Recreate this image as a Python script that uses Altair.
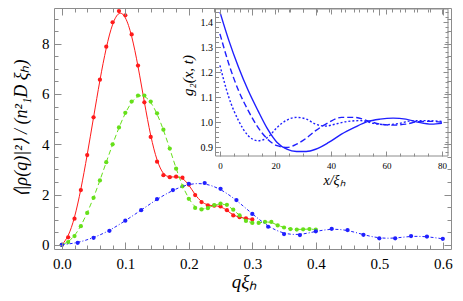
import altair as alt
import pandas as pd

# ---------------- main panel data ----------------
red_q = [0.00, 0.01, 0.02, 0.03, 0.04, 0.05, 0.06, 0.07, 0.08, 0.09, 0.10,
         0.11, 0.12, 0.13, 0.14, 0.15, 0.16, 0.17, 0.18, 0.19, 0.20,
         0.21, 0.22, 0.23, 0.24, 0.25, 0.26, 0.27, 0.28, 0.29, 0.30]
red_v = [0.00, 0.30, 1.04, 2.18, 3.57, 5.07, 6.57, 7.88, 8.85, 9.30, 9.13,
         8.37, 7.13, 5.67, 4.29, 3.31, 2.77, 2.69, 2.71, 2.67, 2.40,
         1.98, 1.70, 1.57, 1.56, 1.53, 1.38, 1.17, 1.10, 1.05, 1.01]

green_q = [0.00, 0.01, 0.02, 0.03, 0.04, 0.05, 0.06, 0.07, 0.08, 0.09, 0.10,
           0.11, 0.12, 0.13, 0.14, 0.15, 0.16, 0.17, 0.18, 0.19, 0.20,
           0.21, 0.22, 0.23, 0.24, 0.25, 0.26, 0.27, 0.28, 0.29, 0.30,
           0.31, 0.32, 0.33, 0.34, 0.35, 0.36, 0.37, 0.38, 0.39, 0.40]
green_v = [0.00, 0.11, 0.35, 0.74, 1.27, 1.87, 2.56, 3.29, 4.00, 4.67, 5.25,
           5.70, 5.94, 5.94, 5.70, 5.23, 4.58, 3.83, 3.03, 2.33, 1.83,
           1.47, 1.41, 1.46, 1.58, 1.64, 1.59, 1.40, 1.17, 0.95, 0.87,
           0.87, 0.91, 0.91, 0.77, 0.69, 0.63, 0.61, 0.62, 0.63, 0.61]

blue_q = [0.000, 0.025, 0.050, 0.075, 0.100, 0.125, 0.150, 0.175, 0.200,
          0.225, 0.250, 0.275, 0.300, 0.325, 0.350, 0.375, 0.400, 0.425,
          0.450, 0.475, 0.500, 0.525, 0.550, 0.575, 0.600]
blue_v = [0.00, 0.08, 0.28, 0.56, 0.96, 1.38, 1.82, 2.18, 2.43,
          2.46, 2.23, 1.78, 1.23, 0.72, 0.43, 0.39, 0.54, 0.64,
          0.59, 0.40, 0.26, 0.26, 0.35, 0.33, 0.24]

x_labels = [0.0, 0.1, 0.2, 0.3, 0.4, 0.5, 0.6]
y_labels = [0, 2, 4, 6, 8]

# ---------------- inset data ----------------
inset_x = [0, 3.2, 6.7, 10.2, 13.7, 17.2, 20.6, 24.1, 27.6, 31.1, 34.5,
           39.2, 43.8, 48.5, 53.1, 57.7, 62.4, 67.0, 71.7, 76.3, 80.0]
g_solid = [1.440, 1.327, 1.220, 1.127, 1.047, 0.973, 0.920, 0.893, 0.884,
           0.884, 0.893, 0.920, 0.953, 0.980, 1.003, 1.013, 1.017, 1.013,
           1.000, 0.993, 0.996]
g_dashed = [1.353, 1.233, 1.127, 1.047, 0.980, 0.933, 0.907, 0.900, 0.913,
            0.937, 0.967, 1.000, 1.020, 1.020, 1.007, 0.993, 0.989, 0.993,
            1.003, 1.004, 1.000]
dot_x = [0, 3.2, 6.7, 10.2, 13.7, 17.2, 20.6, 24.1, 27.6, 31.1, 34.5,
         38.0, 41.5, 46.1, 50.8, 55.4, 60.0, 64.7, 69.3, 73.9, 80.0]
g_dotted = [1.227, 1.100, 1.007, 0.947, 0.927, 0.940, 0.980, 1.009, 1.020,
            1.013, 0.993, 0.985, 0.993, 1.004, 1.007, 0.996, 0.991, 0.996,
            1.007, 1.007, 1.004]
inset_x_labels = [0, 20, 40, 60, 80]
inset_y_labels = [0.9, 1.0, 1.1, 1.2, 1.3, 1.4]

# ---------------- layout / style ----------------
W, H = 397, 241
IN_L, IN_R, IN_T, IN_B = 161.5, 394, 1, 148
RED, GREEN, BLUE = "#ff1a1a", "#66e01a", "#1f1fff"
FRAME = "#8c8c8c"
SERIF = "Liberation Serif"

red_df = pd.DataFrame({"q": red_q, "v": red_v})
green_df = pd.DataFrame({"q": green_q, "v": green_v})
blue_df = pd.DataFrame({"q": blue_q, "v": blue_v})
solid_df = pd.DataFrame({"x": inset_x, "g": g_solid})
dashed_df = pd.DataFrame({"x": inset_x, "g": g_dashed})
dotted_df = pd.DataFrame({"x": dot_x, "g": g_dotted})

xs = alt.Scale(domain=[-0.0123, 0.6129], nice=False, zero=False)
ys = alt.Scale(domain=[-0.165, 9.42], nice=False, zero=False)
ixs = alt.Scale(domain=[-1.6, 82.2], range=[IN_L, IN_R], nice=False, zero=False)
iys = alt.Scale(domain=[0.866, 1.452], range=[IN_B, IN_T], nice=False, zero=False)

x_minor = [round(0.02 * i, 2) for i in range(0, 31)]
y_minor = [0.5 * i for i in range(0, 19)]
ix_minor = [5 * i for i in range(0, 17)]
iy_minor = [round(0.88 + 0.02 * i, 2) for i in range(0, 29)]


def tick_axis(values, orient, offset, test, big, small):
    return alt.Axis(values=values, orient=orient, offset=offset, labels=False,
                    domain=False, grid=False, title=None, ticks=True,
                    tickColor=FRAME, tickWidth=1, zindex=1,
                    tickSize={"condition": {"test": test, "value": big},
                              "value": small})


x_major_test = "abs(datum.value*10 - round(datum.value*10)) < 0.001"
y_major_test = "abs(datum.value/2 - round(datum.value/2)) < 0.001"
ix_major_test = "abs(datum.value/20 - round(datum.value/20)) < 0.001"
iy_major_test = "abs(datum.value*10 - round(datum.value*10)) < 0.001"

# main axes with labels and titles
main_x_axis = alt.Axis(values=x_labels, format=".1f", orient="bottom", ticks=False,
                       domain=False, grid=False, labelFont=SERIF, labelFontSize=15,
                       labelColor="black", labelPadding=7, labelFlush=False,
                       title="qξₕ", titleFont=SERIF, titleFontStyle="italic",
                       titleFontWeight="normal", titleFontSize=19, titleColor="black",
                       titleX=190, titleY=38, titleBaseline="alphabetic",
                       titleAlign="center")
main_y_axis = alt.Axis(values=y_labels, format="d", orient="left", ticks=False,
                       domain=False, grid=False, labelFont=SERIF, labelFontSize=15,
                       labelColor="black", labelPadding=5, labelFlush=False,
                       title="⟨|ρ(q)|²⟩ / (n²₁D ξₕ)", titleFont=SERIF,
                       titleFontStyle="italic", titleFontWeight="normal",
                       titleFontSize=18, titleColor="black", titleAngle=270,
                       titleX=-28, titleY=120, titleBaseline="alphabetic",
                       titleAlign="center")

MX = alt.X("q:Q", scale=xs, axis=main_x_axis)
MY = alt.Y("v:Q", scale=ys, axis=main_y_axis)


def series(df, color, dash):
    base = alt.Chart(df)
    line_kw = dict(color=color, strokeWidth=1, interpolate="basis")
    if dash:
        line_kw["strokeDash"] = dash
    line = base.mark_line(**line_kw).encode(x=MX, y=MY)
    pts = base.mark_circle(color=color, size=18, opacity=1).encode(x=MX, y=MY)
    return [line, pts]


main = alt.layer(*(series(red_df, RED, None)
                   + series(green_df, GREEN, [5, 3])
                   + series(blue_df, BLUE, [3, 2, 1, 2])))

# inward tick layers for the main frame
ticks_a = alt.Chart(red_df).mark_point(opacity=0).encode(
    x=alt.X("q:Q", scale=xs, axis=tick_axis(x_minor, "top", -H, x_major_test, 7, 4)),
    y=alt.Y("v:Q", scale=ys, axis=tick_axis(y_minor, "right", -W, y_major_test, 7, 4)),
)
ticks_b = alt.Chart(red_df).mark_point(opacity=0).encode(
    x=alt.X("q:Q", scale=xs, axis=tick_axis(x_minor, "bottom", -H, x_major_test, 7, 4)),
    y=alt.Y("v:Q", scale=ys, axis=tick_axis(y_minor, "left", -W, y_major_test, 7, 4)),
)

# inset background/frame
inset_bg = alt.Chart(pd.DataFrame({"a": [0]})).mark_rect(
    fill="white", stroke=FRAME, strokeWidth=1).encode(
    x=alt.value(IN_L), x2=alt.value(IN_R), y=alt.value(IN_T), y2=alt.value(IN_B))

inset_x_axis = alt.Axis(values=inset_x_labels, format="d", orient="bottom",
                        offset=IN_B - H, ticks=False, domain=False, grid=False,
                        labelFont=SERIF, labelFontSize=9, labelColor="black",
                        labelPadding=5, labelFlush=False, zindex=1,
                        title="x/ξₕ", titleFont=SERIF, titleFontStyle="italic",
                        titleFontWeight="normal", titleFontSize=14,
                        titleColor="black", titleX=280, titleY=28,
                        titleBaseline="alphabetic", titleAlign="center")
inset_y_axis = alt.Axis(values=inset_y_labels, format=".1f", orient="left",
                        offset=-IN_L, ticks=False, domain=False, grid=False,
                        labelFont=SERIF, labelFontSize=10, labelColor="black",
                        labelPadding=3, labelFlush=False, zindex=1,
                        title="g₂(x, t)", titleFont=SERIF, titleFontStyle="italic",
                        titleFontWeight="normal", titleFontSize=15,
                        titleColor="black", titleAngle=270, titleX=-23,
                        titleY=67, titleBaseline="alphabetic", titleAlign="center")

IX = alt.X("x:Q", scale=ixs, axis=inset_x_axis)
IY = alt.Y("g:Q", scale=iys, axis=inset_y_axis)

inset_lines = alt.layer(
    alt.Chart(solid_df).mark_line(color=BLUE, strokeWidth=1.4,
                                  interpolate="monotone").encode(x=IX, y=IY),
    alt.Chart(dashed_df).mark_line(color=BLUE, strokeWidth=1.4, strokeDash=[6, 3],
                                   interpolate="monotone").encode(x=IX, y=IY),
    alt.Chart(dotted_df).mark_line(color=BLUE, strokeWidth=1.4, strokeDash=[2, 2],
                                   interpolate="monotone").encode(x=IX, y=IY),
)

iticks_a = alt.Chart(solid_df).mark_point(opacity=0).encode(
    x=alt.X("x:Q", scale=ixs, axis=tick_axis(ix_minor, "top", -IN_B, ix_major_test, 5, 3)),
    y=alt.Y("g:Q", scale=iys, axis=tick_axis(iy_minor, "right", IN_L - W, iy_major_test, 5, 3)),
)
iticks_b = alt.Chart(solid_df).mark_point(opacity=0).encode(
    x=alt.X("x:Q", scale=ixs, axis=tick_axis(ix_minor, "bottom", IN_T - H, ix_major_test, 5, 3)),
    y=alt.Y("g:Q", scale=iys, axis=tick_axis(iy_minor, "left", -IN_R, iy_major_test, 5, 3)),
)

chart = alt.layer(
    ticks_a, ticks_b, main, inset_bg, inset_lines, iticks_a, iticks_b
).resolve_scale(
    x="independent", y="independent"
).properties(
    width=W, height=H,
    background="white",
    autosize=alt.AutoSizeParams(type="none"),
    padding={"left": 46, "top": 0, "right": 4, "bottom": 43},
).configure_view(
    stroke=FRAME, strokeWidth=1
)

chart.save("out.html", embed_options={"renderer": "svg", "actions": False})
